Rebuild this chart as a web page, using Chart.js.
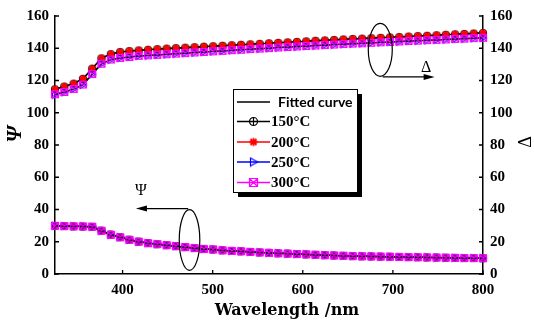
<!DOCTYPE html>
<html>
<head>
<meta charset="utf-8">
<script src="https://cdn.jsdelivr.net/npm/chart.js@4.4.1/dist/chart.umd.min.js"></script>
<style>
  body { margin: 0; background: #fff; }
  #wrap { width: 534px; height: 325px; }
</style>
</head>
<body>
<div id="wrap"><canvas id="myChart"></canvas></div>
<script>
// wavelength grid (nm)
const wavelengths = [
  325.0, 335.3, 345.7, 356.0, 366.3, 376.6, 387.0, 397.3, 407.6, 417.9,
  428.3, 438.6, 448.9, 459.2, 469.6, 479.9, 490.2, 500.5, 510.9, 521.2,
  531.5, 541.8, 552.2, 562.5, 572.8, 583.2, 593.5, 603.8, 614.1, 624.5,
  634.8, 645.1, 655.4, 665.8, 676.1, 686.4, 696.7, 707.1, 717.4, 727.7,
  738.0, 748.4, 758.7, 769.0, 779.3, 789.7, 800.0
];

const temps = ['150°C', '200°C', '250°C', '300°C'];

// Delta (deg)
const delta150 = [
  114.5, 116.2, 118.0, 121.0, 127.3, 133.7, 136.3, 137.6, 138.2, 138.6,
  139.0, 139.4, 139.7, 140.0, 140.3, 140.6, 140.9, 141.2, 141.5, 141.8,
  142.1, 142.4, 142.7, 143.0, 143.3, 143.6, 143.9, 144.2, 144.6, 144.8,
  145.1, 145.4, 145.7, 145.9, 146.2, 146.4, 146.7, 146.9, 147.2, 147.5,
  147.7, 148.0, 148.3, 148.6, 148.8, 149.1, 149.4
];
const delta200 = [
  114.7, 116.4, 118.2, 121.2, 127.5, 133.9, 136.5, 137.8, 138.4, 138.8,
  139.2, 139.6, 139.9, 140.2, 140.5, 140.8, 141.1, 141.4, 141.7, 142.0,
  142.3, 142.6, 142.9, 143.2, 143.5, 143.8, 144.1, 144.4, 144.8, 145.0,
  145.3, 145.6, 145.9, 146.1, 146.4, 146.6, 146.9, 147.1, 147.4, 147.7,
  147.9, 148.2, 148.5, 148.8, 149.0, 149.3, 149.6
];
const delta250 = [
  111.3, 112.7, 114.7, 117.3, 123.8, 130.3, 132.9, 133.9, 134.5, 135.2,
  135.5, 135.8, 136.2, 136.6, 136.9, 137.3, 137.6, 138.0, 138.3, 138.7,
  139.0, 139.4, 139.7, 140.0, 140.4, 140.7, 141.0, 141.3, 141.6, 141.9,
  142.2, 142.5, 142.8, 143.0, 143.3, 143.6, 143.8, 144.1, 144.4, 144.6,
  144.9, 145.1, 145.4, 145.7, 145.9, 146.2, 146.4
];
const delta300 = [
  111.5, 112.9, 114.8, 117.5, 124.0, 130.4, 133.0, 134.0, 134.6, 135.3,
  135.6, 135.9, 136.3, 136.7, 137.0, 137.4, 137.7, 138.1, 138.4, 138.8,
  139.1, 139.5, 139.8, 140.1, 140.5, 140.8, 141.1, 141.4, 141.7, 142.0,
  142.3, 142.6, 142.9, 143.1, 143.4, 143.7, 143.9, 144.2, 144.5, 144.7,
  145.0, 145.2, 145.5, 145.8, 146.0, 146.3, 146.5
];

// Psi (deg)
const psi150 = [
  29.8, 29.7, 29.5, 29.4, 29.3, 26.9, 24.5, 22.8, 21.3, 20.1,
  19.2, 18.5, 17.9, 17.3, 16.7, 16.1, 15.6, 15.2, 14.7, 14.4,
  14.1, 13.7, 13.4, 13.2, 12.9, 12.7, 12.4, 12.2, 11.9, 11.7,
  11.5, 11.3, 11.1, 11.0, 10.9, 10.8, 10.7, 10.6, 10.5, 10.4,
  10.3, 10.2, 10.1, 10.0, 9.9, 9.9, 9.8
];
const psi200 = [
  29.9, 29.8, 29.6, 29.5, 29.3, 26.8, 24.4, 22.9, 21.2, 20.0,
  19.2, 18.5, 17.8, 17.2, 16.7, 16.1, 15.5, 15.1, 14.7, 14.3,
  14.0, 13.7, 13.4, 13.1, 12.9, 12.6, 12.4, 12.1, 11.9, 11.7,
  11.5, 11.3, 11.1, 11.0, 10.9, 10.8, 10.7, 10.6, 10.5, 10.4,
  10.3, 10.2, 10.1, 10.0, 9.9, 9.8, 9.8
];
const psi250 = [
  29.9, 29.7, 29.5, 29.5, 29.3, 26.8, 24.4, 22.8, 21.2, 20.0,
  19.2, 18.5, 17.9, 17.3, 16.7, 16.1, 15.5, 15.2, 14.7, 14.3,
  14.1, 13.7, 13.4, 13.1, 12.9, 12.6, 12.4, 12.2, 11.9, 11.7,
  11.5, 11.3, 11.1, 11.0, 10.9, 10.8, 10.7, 10.6, 10.5, 10.4,
  10.3, 10.2, 10.1, 10.0, 9.9, 9.9, 9.8
];
const psi300 = [
  29.9, 29.7, 29.6, 29.5, 29.3, 26.8, 24.3, 22.8, 21.2, 20.0,
  19.1, 18.5, 17.9, 17.3, 16.7, 16.1, 15.5, 15.2, 14.7, 14.3,
  14.1, 13.7, 13.4, 13.1, 12.8, 12.6, 12.4, 12.2, 11.9, 11.7,
  11.5, 11.3, 11.1, 11.0, 10.9, 10.8, 10.7, 10.6, 10.5, 10.4,
  10.3, 10.2, 10.1, 10.0, 9.9, 9.9, 9.8
];

const xTicks = [400, 500, 600, 700, 800];
const yTicks = [0, 20, 40, 60, 80, 100, 120, 140, 160];

const deltaSets = [delta150, delta200, delta250, delta300];
const psiSets = [psi150, psi200, psi250, psi300];
const colors = ['#000000', '#ff0000', '#0000ff', '#ff00ff'];

// small canvases used as point symbols
function makeMarker(kind, color, r) {
  const size = Math.ceil(2 * r + 3);
  const c = document.createElement('canvas');
  c.width = size; c.height = size;
  const g = c.getContext('2d');
  const m = size / 2;
  g.strokeStyle = color;
  g.lineWidth = 1.2;
  g.beginPath();
  if (kind === 'circlePlus') {
    g.arc(m, m, r, 0, Math.PI * 2);
    g.moveTo(m - r, m); g.lineTo(m + r, m);
    g.moveTo(m, m - r); g.lineTo(m, m + r);
  } else if (kind === 'star') {
    g.lineWidth = 1.8;
    const d = r * 0.75;
    g.moveTo(m - r, m); g.lineTo(m + r, m);
    g.moveTo(m, m - r); g.lineTo(m, m + r);
    g.moveTo(m - d, m - d); g.lineTo(m + d, m + d);
    g.moveTo(m - d, m + d); g.lineTo(m + d, m - d);
  } else if (kind === 'triRight') {
    const b = r * 0.75;
    g.moveTo(m - b, m - r); g.lineTo(m + r, m); g.lineTo(m - b, m + r); g.closePath();
  } else if (kind === 'boxX') {
    g.rect(m - r, m - r, 2 * r, 2 * r);
    g.moveTo(m - r, m - r); g.lineTo(m + r, m + r);
    g.moveTo(m - r, m + r); g.lineTo(m + r, m - r);
  }
  g.stroke();
  return c;
}
const kinds = ['circlePlus', 'star', 'triRight', 'boxX'];
const markers = kinds.map((k, i) => makeMarker(k, colors[i], 3.5));
const legendMarkers = kinds.map((k, i) => makeMarker(k, colors[i], 4));

const datasets = [];
temps.forEach((t, i) => {
  [deltaSets[i], psiSets[i]].forEach(vals => {
    datasets.push({
      label: t,
      data: wavelengths.map((w, k) => ({ x: w, y: vals[k] })),
      borderColor: '#000',
      borderWidth: 1.3,
      pointStyle: markers[i],
      pointRadius: 4,
      order: 3 - i,
      clip: 10
    });
  });
});

const tickFont = { family: 'Liberation Serif', size: 15, weight: 'bold' };

const decorations = {
  id: 'decorations',
  afterDraw(chart) {
    const ctx = chart.ctx;
    const { x, y } = chart.scales;
    const a = chart.chartArea;
    ctx.save();
    ctx.strokeStyle = '#000';
    ctx.fillStyle = '#000';

    // inward tick marks
    ctx.lineWidth = 1.3;
    ctx.beginPath();
    xTicks.forEach(v => {
      const p = x.getPixelForValue(v);
      ctx.moveTo(p, a.bottom); ctx.lineTo(p, a.bottom - 4);
    });
    yTicks.forEach(v => {
      const p = y.getPixelForValue(v);
      ctx.moveTo(a.left, p); ctx.lineTo(a.left + 4, p);
      ctx.moveTo(a.right, p); ctx.lineTo(a.right - 4, p);
    });
    ctx.stroke();

    // ellipses and arrows marking which curve belongs to which axis
    const px = v => x.getPixelForValue(v);
    const py = v => y.getPixelForValue(v);
    function ellipse(cx, cy, rx, ry) {
      const X = px(cx), Y = py(cy);
      ctx.beginPath();
      ctx.ellipse(X, Y, Math.abs(px(cx + rx) - X), Math.abs(py(cy + ry) - Y), 0, 0, Math.PI * 2);
      ctx.lineWidth = 1.2;
      ctx.stroke();
    }
    function arrow(x0, x1, yv) {
      const X0 = px(x0), X1 = px(x1), Y = py(yv);
      const dir = Math.sign(X1 - X0);
      ctx.beginPath();
      ctx.moveTo(X0, Y); ctx.lineTo(X1 - dir * 8, Y);
      ctx.lineWidth = 1.3;
      ctx.stroke();
      ctx.beginPath();
      ctx.moveTo(X1, Y); ctx.lineTo(X1 - dir * 11, Y - 3); ctx.lineTo(X1 - dir * 11, Y + 3);
      ctx.closePath();
      ctx.fill();
    }
    ellipse(686, 139, 13.3, 16.4);
    arrow(688.6, 746.3, 122.2);
    ellipse(474.3, 21.1, 11.4, 18.8);
    arrow(472.8, 414.8, 40.6);

    ctx.font = '16px "Liberation Serif"';
    ctx.textAlign = 'center';
    ctx.textBaseline = 'middle';
    ctx.fillText('Δ', px(737), py(128));
    ctx.fillText('Ψ', px(420.3), py(51.7));

    // axis titles
    ctx.font = 'bold 16px "DejaVu Serif"';
    ctx.fillText('Wavelength /nm', 287, 311);
    ctx.save();
    ctx.translate(16, 134);
    ctx.rotate(-Math.PI / 2);
    ctx.font = 'italic bold 21px "Liberation Serif"';
    ctx.fillText('Ψ', 0, 0);
    ctx.restore();
    ctx.save();
    ctx.translate(526, 142);
    ctx.rotate(-Math.PI / 2);
    ctx.font = '18px "Liberation Serif"';
    ctx.fillText('Δ', 0, 0);
    ctx.restore();

    // legend box with drop shadow
    const bx = 233, by = 89, bw = 124, bh = 103;
    ctx.fillRect(bx + 5, by + 5, bw, bh);
    ctx.fillStyle = '#fff';
    ctx.fillRect(bx, by, bw, bh);
    ctx.lineWidth = 1;
    ctx.strokeRect(bx + 0.5, by + 0.5, bw, bh);

    const rows = [102, 121.5, 142, 162, 182.5];
    ctx.textAlign = 'left';
    ctx.lineWidth = 1.3;
    ctx.strokeStyle = '#000';
    ctx.beginPath();
    ctx.moveTo(237, rows[0]); ctx.lineTo(270, rows[0]);
    ctx.stroke();
    ctx.fillStyle = '#000';
    ctx.font = 'bold 14px Lato';
    ctx.fillText('Fitted curve', 278, rows[0]);

    ctx.font = 'bold 15px "Liberation Serif"';
    temps.forEach((t, i) => {
      const ry = rows[i + 1];
      const mk = legendMarkers[i];
      ctx.strokeStyle = colors[i];
      ctx.beginPath();
      ctx.moveTo(237, ry); ctx.lineTo(270, ry);
      ctx.stroke();
      ctx.drawImage(mk, 253.5 - mk.width / 2, ry - mk.height / 2);
      ctx.fillStyle = '#000';
      ctx.fillText(t, 271, ry + 1);
    });
    ctx.restore();
  }
};

new Chart(document.getElementById('myChart').getContext('2d'), {
  type: 'line',
  data: { datasets: datasets },
  options: {
    responsive: true,
    maintainAspectRatio: false,
    animation: false,
    layout: { padding: { top: 11 } },
    plugins: {
      legend: { display: false },
      tooltip: { enabled: false }
    },
    scales: {
      x: {
        type: 'linear',
        min: 325,
        max: 800,
        afterBuildTicks: s => { s.ticks = xTicks.map(v => ({ value: v })); },
        afterFit: s => { s.height = 51; },
        ticks: { font: tickFont, color: '#000', padding: 7 },
        grid: { drawOnChartArea: false, drawTicks: false },
        border: { color: '#000', width: 1.5 }
      },
      y: {
        position: 'left',
        min: 0,
        max: 160,
        afterBuildTicks: s => { s.ticks = yTicks.map(v => ({ value: v })); },
        afterFit: s => { s.width = 55; },
        ticks: { font: tickFont, color: '#000', padding: 6 },
        grid: { drawOnChartArea: false, drawTicks: false },
        border: { color: '#000', width: 1.5 }
      },
      y2: {
        position: 'right',
        min: 0,
        max: 160,
        afterBuildTicks: s => { s.ticks = yTicks.map(v => ({ value: v })); },
        afterFit: s => { s.width = 51; },
        ticks: { font: tickFont, color: '#000', padding: 7 },
        grid: { drawOnChartArea: false, drawTicks: false },
        border: { color: '#000', width: 1.5 }
      }
    }
  },
  plugins: [decorations]
});
</script>
</body>
</html>
